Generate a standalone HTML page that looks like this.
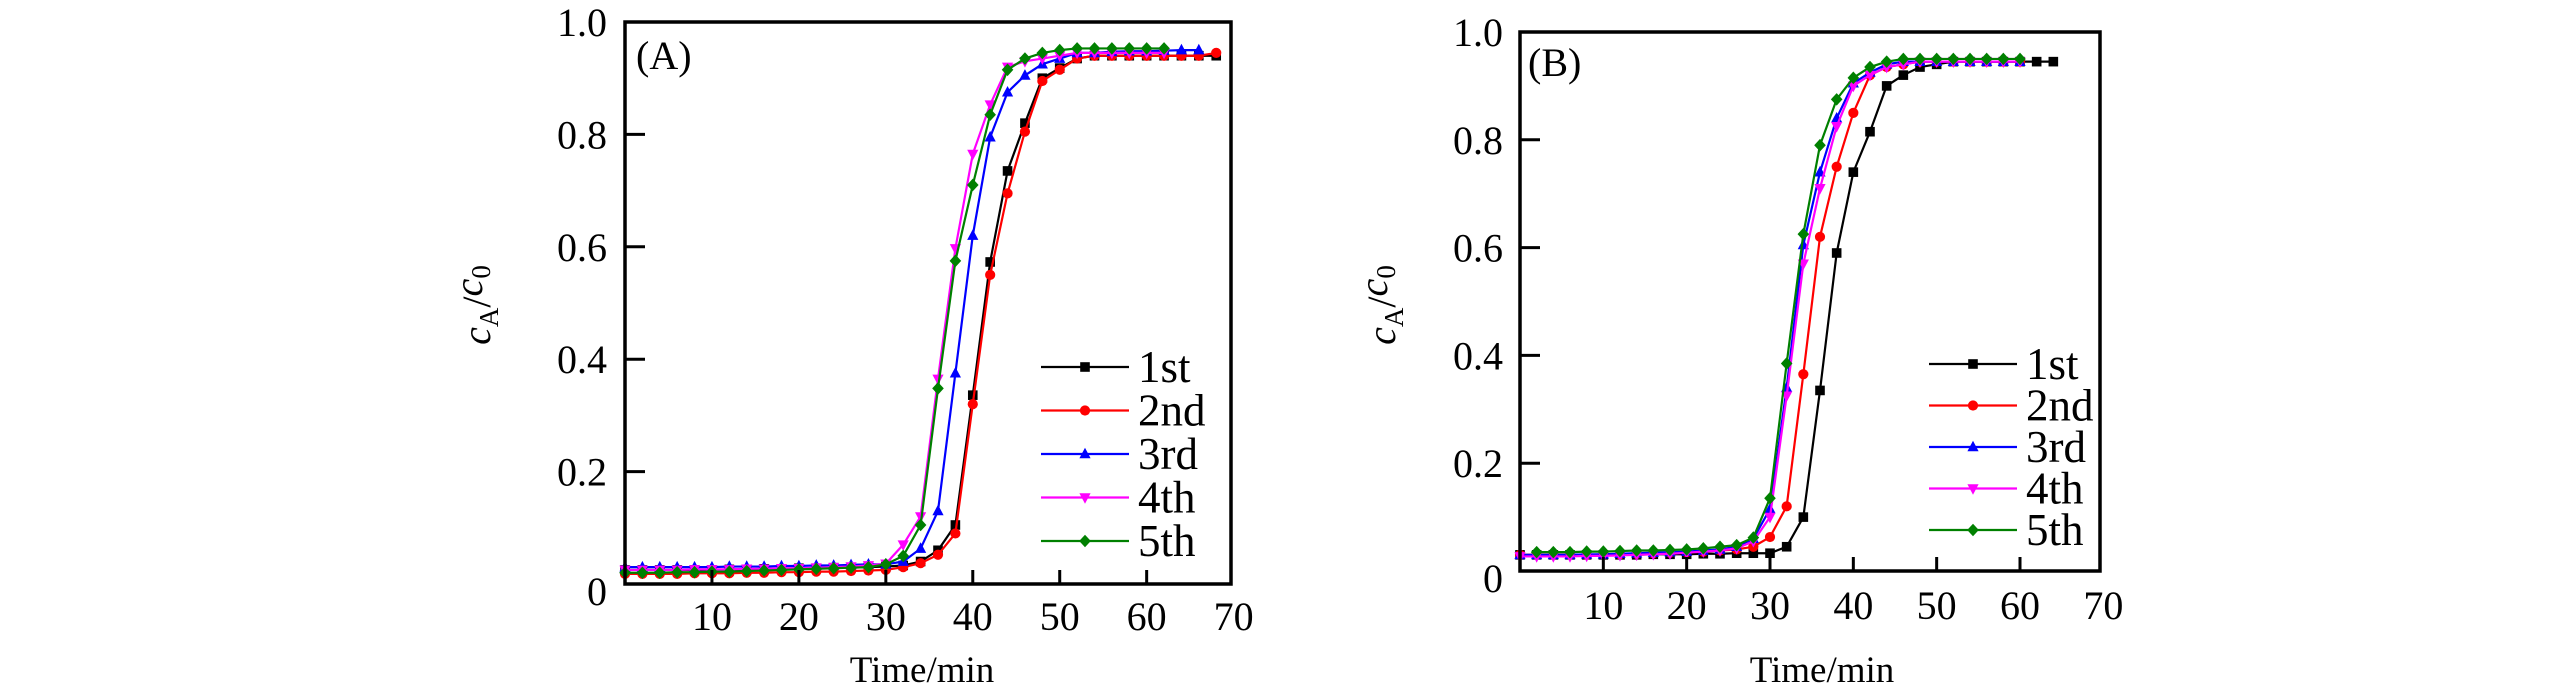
<!DOCTYPE html>
<html><head><meta charset="utf-8"><style>
html,body{margin:0;padding:0;background:#fff;}
svg{display:block;}
text{font-family:"Liberation Serif",serif;fill:#000;}
</style></head><body>
<svg id="chart" width="2567" height="695" viewBox="0 0 2567 695" xmlns="http://www.w3.org/2000/svg"></svg>
<script>
// ---- data ----
const seriesNames = ["1st","2nd","3rd","4th","5th"];
const seriesColors = ["#000000","#ff0000","#0000ff","#ff00ff","#008000"];
const seriesMarkers = ["square","circle","triangle-up","triangle-down","diamond"];
const xTicks = [10,20,30,40,50,60,70];
const yTicks = [0,0.2,0.4,0.6,0.8,1.0];
const yTickLabels = ["0","0.2","0.4","0.6","0.8","1.0"];

// Panel A (start time, step 2 min)
const aStart = [0,0,0,0,0];
const a1 = [0.025,0.025,0.025,0.025,0.025,0.025,0.026,0.026,0.027,0.027,0.028,0.028,0.029,0.029,0.030,0.031,0.033,0.04,0.06,0.105,0.336,0.573,0.735,0.82,0.90,0.918,0.935,0.94,0.94,0.94,0.94,0.94,0.94,0.94,0.94];
const a2 = [0.018,0.018,0.018,0.018,0.019,0.019,0.019,0.020,0.020,0.021,0.021,0.022,0.022,0.023,0.024,0.025,0.03,0.037,0.052,0.09,0.32,0.55,0.695,0.805,0.895,0.915,0.935,0.94,0.94,0.94,0.94,0.94,0.94,0.94,0.945];
const a3 = [0.030,0.030,0.030,0.030,0.030,0.030,0.031,0.031,0.031,0.032,0.032,0.033,0.033,0.034,0.035,0.035,0.04,0.063,0.13,0.375,0.62,0.795,0.875,0.905,0.925,0.935,0.945,0.945,0.947,0.948,0.948,0.949,0.95,0.95];
const a4 = [0.025,0.025,0.025,0.025,0.026,0.026,0.026,0.027,0.027,0.028,0.028,0.029,0.030,0.031,0.033,0.036,0.07,0.12,0.365,0.597,0.765,0.853,0.92,0.93,0.935,0.94,0.945,0.945,0.945,0.945,0.945,0.945];
const a5 = [0.020,0.020,0.020,0.021,0.021,0.022,0.022,0.023,0.024,0.025,0.026,0.027,0.028,0.029,0.030,0.035,0.05,0.105,0.348,0.575,0.71,0.835,0.915,0.935,0.945,0.95,0.953,0.953,0.953,0.953,0.953,0.953];

// Panel B
const bStart = [0,0,0,0,2];
const b1 = [0.030,0.030,0.030,0.030,0.030,0.030,0.030,0.030,0.031,0.031,0.031,0.032,0.032,0.033,0.033,0.033,0.045,0.10,0.335,0.59,0.74,0.815,0.90,0.92,0.935,0.94,0.945,0.945,0.945,0.945,0.945,0.945,0.945];
const b2 = [0.030,0.030,0.030,0.030,0.030,0.031,0.031,0.032,0.033,0.034,0.035,0.036,0.038,0.040,0.045,0.063,0.12,0.365,0.62,0.75,0.85,0.92,0.935,0.94,0.945,0.945,0.945,0.945,0.945,0.945,0.945];
const b3 = [0.030,0.030,0.030,0.030,0.031,0.031,0.032,0.033,0.034,0.035,0.036,0.038,0.040,0.045,0.06,0.115,0.34,0.605,0.74,0.84,0.905,0.925,0.94,0.945,0.945,0.945,0.945,0.945,0.945,0.945,0.945];
const b4 = [0.027,0.027,0.027,0.027,0.028,0.028,0.029,0.030,0.031,0.032,0.034,0.036,0.038,0.042,0.055,0.10,0.325,0.57,0.71,0.825,0.90,0.92,0.935,0.94,0.945,0.945,0.945,0.945,0.945,0.945,0.945];
const b5 = [0.035,0.035,0.035,0.036,0.036,0.037,0.038,0.038,0.039,0.040,0.042,0.045,0.048,0.062,0.135,0.385,0.625,0.79,0.875,0.915,0.935,0.945,0.95,0.95,0.95,0.95,0.95,0.95,0.95,0.95];

const svg = document.getElementById('chart');
const NS = "http://www.w3.org/2000/svg";
function mk(tag, attrs, parent){
  const e = document.createElementNS(NS, tag);
  for (const k in attrs) e.setAttribute(k, attrs[k]);
  (parent||svg).appendChild(e);
  return e;
}

function marker(g, type, x, y, color){
  const s = 4.8;
  let e;
  if (type==="square") e = mk('rect',{x:x-s,y:y-s,width:2*s,height:2*s,fill:color},g);
  else if (type==="circle") e = mk('circle',{cx:x,cy:y,r:s+0.3,fill:color},g);
  else if (type==="triangle-up") e = mk('polygon',{points:`${x},${y-s-1.5} ${x-s-0.8},${y+s-0.5} ${x+s+0.8},${y+s-0.5}`,fill:color},g);
  else if (type==="triangle-down") e = mk('polygon',{points:`${x},${y+s+1.5} ${x-s-0.8},${y-s+0.5} ${x+s+0.8},${y-s+0.5}`,fill:color},g);
  else e = mk('polygon',{points:`${x},${y-s-1.5} ${x+s+1},${y} ${x},${y+s+1.5} ${x-s-1},${y}`,fill:color},g);
  return e;
}

function panel(cfg){
  const {id, L, R, T, B, xmax, data, starts, label, labelX, labelY, ylabX, xtitleX, legX, legY, legStep, ytlRight, xtlY} = cfg;
  const sx = v => L + (v/xmax)*(R-L);
  const sy = v => B - v*(B-T);
  const g = mk('g',{});
  
  

  // series
  data.forEach((vals, si) => {
    const sg = mk('g',{},g);
    
    
    const pts = vals.map((v,i)=>[sx(starts[si]+2*i), sy(v)]);
    const pl = mk('polyline',{points:pts.map(p=>p.join(',')).join(' '),fill:'none',stroke:seriesColors[si],'stroke-width':2.2},sg);
    
    
    pts.forEach(p=>{
      const m = marker(sg, seriesMarkers[si], p[0], p[1], seriesColors[si]);
      
      
    });
  });

  // frame
  const fr = mk('rect',{x:L,y:T,width:R-L,height:B-T,fill:'none',stroke:'#000','stroke-width':3.5},g);
  
  

  // x ticks
  xTicks.forEach(t=>{
    const x = sx(t);
    if (x < R-4){
      const tk = mk('line',{x1:x,y1:B,x2:x,y2:B-14,stroke:'#000','stroke-width':3},g);
      
      
    }
    const tl = mk('text',{x:x,y:xtlY,'font-size':40,'text-anchor':'middle'},g);
    tl.textContent = String(t);
    
    
  });
  // y ticks
  yTicks.forEach((t,i)=>{
    const y = sy(t);
    if (t>0 && t<1){
      const tk = mk('line',{x1:L,y1:y,x2:L+20,y2:y,stroke:'#000','stroke-width':3},g);
      
      
    }
    const ty = (t===0) ? y+21 : y+14;
    const tl = mk('text',{x:ytlRight,y:ty,'font-size':40,'text-anchor':'end'},g);
    tl.textContent = yTickLabels[i];
    
    
  });

  // panel label
  const pl = mk('text',{x:labelX,y:labelY,'font-size':40},g);
  pl.textContent = label;
  
  

  // x title
  const xt = mk('text',{x:xtitleX,y:682,'font-size':37,'text-anchor':'middle'},g);
  xt.textContent = 'Time/min';
  
  

  // y title
  const yt = mk('text',{transform:`translate(${ylabX},305) rotate(-90)`,'font-size':40,'text-anchor':'middle'},g);
  
  
  const parts = [['c','italic',null],['A','normal','sub'],['/','normal',null],['c','italic',null],['0','normal','sub']];
  parts.forEach(p=>{
    const ts = mk('tspan',{'font-style':p[1]},yt);
    if (p[2]==='sub'){ ts.setAttribute('font-size','27'); ts.setAttribute('dy','8'); }
    else if (p[0]==='/' || (p[0]==='c' && yt.childNodes.length>1)){ ts.setAttribute('dy','-8'); }
    ts.textContent = p[0];
  });

  // legend
  const lg = mk('g',{},g);
  
  
  seriesNames.forEach((n,si)=>{
    const y = legY + si*legStep;
    const eg = mk('g',{},lg);
    
    
    mk('line',{x1:legX,y1:y,x2:legX+88,y2:y,stroke:seriesColors[si],'stroke-width':2.2},eg);
    marker(eg, seriesMarkers[si], legX+44, y, seriesColors[si]);
    const tx = mk('text',{x:legX+97,y:y+15,'font-size':45},eg);
    tx.textContent = n;
  });
}

panel({id:'panel-a', L:625, R:1231, T:22, B:584, xmax:69.7,
  data:[a1,a2,a3,a4,a5], starts:aStart, label:'(A)', labelX:636, labelY:69,
  ylabX:490, xtitleX:922, legX:1041, legY:367, legStep:43.5, ytlRight:607, xtlY:630});
panel({id:'panel-b', L:1520, R:2100, T:32, B:571, xmax:69.6,
  data:[b1,b2,b3,b4,b5], starts:bStart, label:'(B)', labelX:1528, labelY:76,
  ylabX:1395, xtitleX:1822, legX:1929, legY:364, legStep:41.5, ytlRight:1503, xtlY:619});
</script>
</body></html>
